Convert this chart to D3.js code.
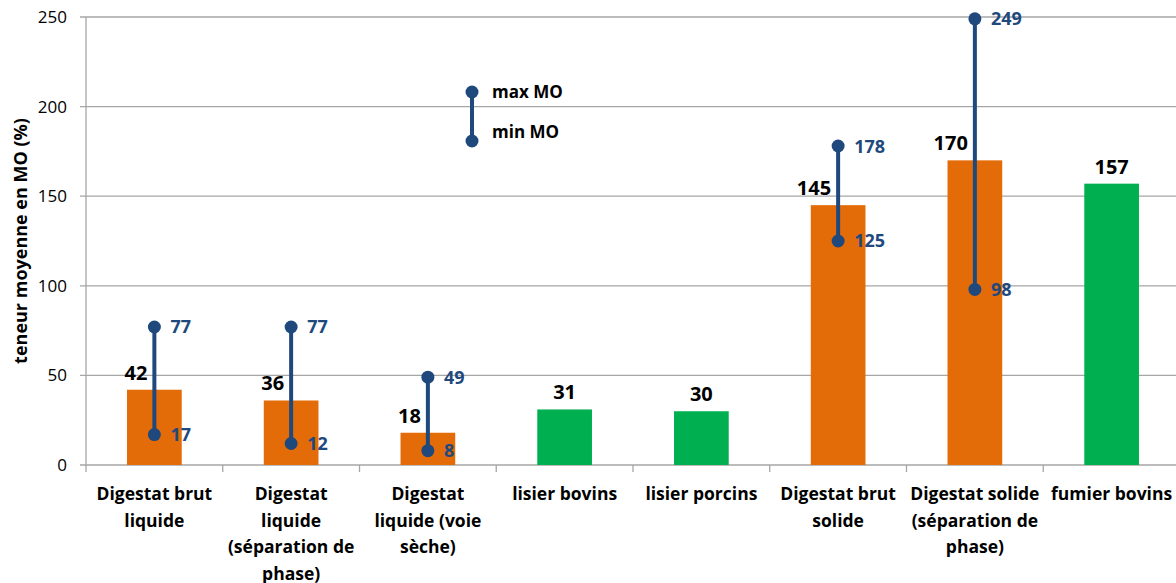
<!DOCTYPE html>
<html lang="fr">
<head>
<meta charset="UTF-8">
<script src="https://d3js.org/d3.v7.min.js"></script>
<style>
    body { margin: 0; background: #fff; }
    svg { display: block; font-family: "Open Sans", sans-serif; }
</style>
</head>
<body>
<svg id="chart" width="1176" height="583"></svg>
<script>
    // data
    const categories = [
        ['Digestat brut', 'liquide'],
        ['Digestat', 'liquide', '(séparation de', 'phase)'],
        ['Digestat', 'liquide (voie', 'sèche)'],
        ['lisier bovins'],
        ['lisier porcins'],
        ['Digestat brut', 'solide'],
        ['Digestat solide', '(séparation de', 'phase)'],
        ['fumier bovins']
    ];
    const means = [42, 36, 18, 31, 30, 145, 170, 157];
    const minMO = [17, 12, 8, null, null, 125, 98, null];
    const maxMO = [77, 77, 49, null, null, 178, 249, null];
    const isDigestat = [true, true, true, false, false, true, true, false];
    const yTicks = [0, 50, 100, 150, 200, 250];

    const orange = '#E36C09', green = '#00B050', navy = '#1F497D', grid = '#A6A6A6';

    const margin = { top: 17, left: 86, bottom: 118 };
    const width = 1094, height = 583 - margin.top - margin.bottom;

    const svg = d3.select('#chart');
    const g = svg.append('g').attr('transform', `translate(${margin.left},${margin.top})`);

    const x = d3.scaleBand().domain(d3.range(categories.length)).range([0, width]).paddingInner(0.6).paddingOuter(0.3);
    const y = d3.scaleLinear().domain([0, 250]).range([height, 0]);

    // gridlines
    g.selectAll('.grid').data(yTicks).enter().append('line')
        .attr('x1', -6).attr('x2', width)
        .attr('y1', d => y(d)).attr('y2', d => y(d))
        .attr('stroke', grid).attr('stroke-width', 1.3);

    // y axis line + labels
    g.append('line').attr('x1', 0).attr('x2', 0).attr('y1', 0).attr('y2', height + 7)
        .attr('stroke', grid).attr('stroke-width', 1.3);
    g.selectAll('.ylab').data(yTicks).enter().append('text')
        .attr('x', -19).attr('y', d => y(d)).attr('dy', '0.35em')
        .attr('text-anchor', 'end').style('font-size', '17px').attr('fill', '#000')
        .text(d => d);

    // x category boundary ticks
    const step = x.step();
    g.selectAll('.xtick').data(d3.range(1, categories.length)).enter().append('line')
        .attr('x1', d => d * step).attr('x2', d => d * step)
        .attr('y1', height).attr('y2', height + 7)
        .attr('stroke', grid).attr('stroke-width', 1.3);

    // y title
    g.append('text')
        .attr('transform', `translate(${-59},${height / 2}) rotate(-90)`)
        .attr('text-anchor', 'middle').style('font-size', '18px').style('font-weight', 'bold')
        .text('teneur moyenne en MO (%)');

    // bars
    const cx = i => x(i) + x.bandwidth() / 2;
    g.selectAll('.bar').data(means).enter().append('rect')
        .attr('x', (d, i) => x(i)).attr('width', x.bandwidth())
        .attr('y', d => y(d)).attr('height', d => height - y(d))
        .attr('fill', (d, i) => isDigestat[i] ? orange : green);

    // mean labels
    g.selectAll('.val').data(means).enter().append('text')
        .attr('x', (d, i) => minMO[i] == null ? cx(i) : cx(i) - 7)
        .attr('y', d => y(d) - 10)
        .attr('text-anchor', (d, i) => minMO[i] == null ? 'middle' : 'end')
        .style('font-size', '20px').style('font-weight', 'bold')
        .text(d => d);

    // min-max ranges
    const ranged = d3.range(categories.length).filter(i => minMO[i] != null);
    ranged.forEach(i => {
        g.append('line').attr('x1', cx(i)).attr('x2', cx(i))
            .attr('y1', y(minMO[i])).attr('y2', y(maxMO[i]))
            .attr('stroke', navy).attr('stroke-width', 4);
        [minMO[i], maxMO[i]].forEach(v => {
            g.append('circle').attr('cx', cx(i)).attr('cy', y(v)).attr('r', 6.5).attr('fill', navy);
            g.append('text').attr('x', cx(i) + 16).attr('y', y(v)).attr('dy', '0.36em')
                .attr('fill', navy).style('font-size', '18px').style('font-weight', 'bold')
                .text(v);
        });
    });

    // category labels
    categories.forEach((lines, i) => {
        const t = g.append('text').attr('text-anchor', 'middle')
            .style('font-size', '17.5px').style('font-weight', 'bold');
        lines.forEach((l, k) => {
            t.append('tspan').attr('x', cx(i)).attr('y', height + 35 + k * 26.5).text(l);
        });
    });

    // legend
    const lg = svg.append('g').attr('transform', 'translate(472,92)');
    lg.append('line').attr('x1', 0).attr('x2', 0).attr('y1', 0).attr('y2', 49)
        .attr('stroke', navy).attr('stroke-width', 4);
    lg.append('circle').attr('cx', 0).attr('cy', 0).attr('r', 6.5).attr('fill', navy);
    lg.append('circle').attr('cx', 0).attr('cy', 49).attr('r', 6.5).attr('fill', navy);
    lg.append('text').attr('x', 20).attr('y', 0).attr('dy', '0.36em')
        .style('font-size', '17px').style('font-weight', 'bold').text('max MO');
    lg.append('text').attr('x', 20).attr('y', 40).attr('dy', '0.36em')
        .style('font-size', '17px').style('font-weight', 'bold').text('min MO');
</script>
</body>
</html>
